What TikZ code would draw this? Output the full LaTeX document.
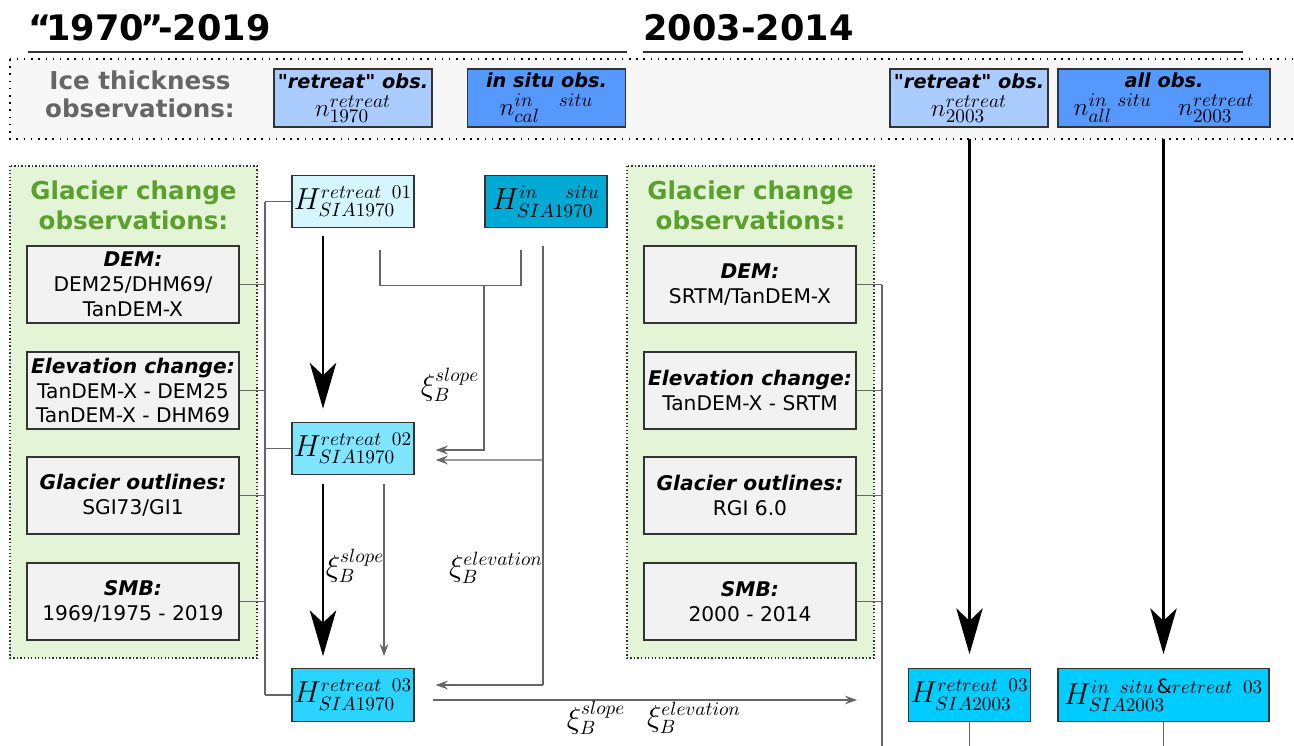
\documentclass[tikz,border=0pt]{standalone}
\usepackage{fontspec}
\setmainfont{DejaVu Sans}[Ligatures=TeXOff]
\usetikzlibrary{arrows.meta, calc}

\definecolor{boxline}{HTML}{333333}
\definecolor{linkgray}{HTML}{666666}
\definecolor{boxgray}{HTML}{F2F2F2}
\definecolor{panelgreen}{HTML}{E3F4D7}
\definecolor{titlegreen}{HTML}{5AA02C}
\definecolor{obsretreat}{HTML}{AACCFF}
\definecolor{obsinsitu}{HTML}{5599FF}
\definecolor{hfirst}{HTML}{D5F6FF}
\definecolor{hsecond}{HTML}{80E5FF}
\definecolor{hthird}{HTML}{2AD4FF}
\definecolor{hinsitu}{HTML}{00AAD4}
\definecolor{hlate}{HTML}{00CCFF}

\newcommand{\obshead}[1]{{\fontsize{11}{13}\selectfont\bfseries #1}}
\newcommand{\obsmath}[1]{{\fontsize{15}{15}\selectfont $#1$}}

\begin{document}
\begin{tikzpicture}[x=0.02cm, y=-0.02cm,
    databox/.style={draw=boxline, line width=0.9pt, fill=boxgray, minimum width=4.24cm,
        minimum height=1.54cm, align=center, inner sep=1pt, font=\fontsize{11.5}{14.2}\selectfont},
    obsbox/.style={draw=boxline, line width=0.7pt, minimum width=3.16cm, minimum height=1.16cm,
        align=center, inner sep=1pt, font=\fontsize{11}{13}\selectfont},
    hbox/.style={draw=boxline, line width=0.7pt, minimum width=2.44cm, minimum height=1.05cm,
        inner sep=1pt, font=\fontsize{16}{18}\selectfont},
    panel/.style={draw=black!80, fill=panelgreen, line width=0.8pt, dash pattern=on 0.8pt off 1.2pt},
    link/.style={draw=linkgray, line width=0.8pt},
    thin arrow/.style={link, -{Stealth[length=7pt, width=5pt, inset=2.5pt]}},
    big arrow/.style={line width=1.7pt, -{Stealth[length=26pt, width=15pt, inset=7pt]}},
    xilabel/.style={font=\fontsize{16}{18}\selectfont, inner sep=0pt}]

    \useasboundingbox (0,0) rectangle (1294,746);

    % periods
    \node[anchor=base west, inner sep=0pt, font=\fontsize{20}{24}\selectfont\bfseries] (periodA) at (28,41)
        {“\kern-3pt1970\kern-2pt”\kern-3pt-2019};
    \draw[boxline, line width=1pt] (28,52) -- (627,52);
    \node[anchor=base west, inner sep=0pt, font=\fontsize{20}{24}\selectfont\bfseries] (periodB) at (643,41) {2003-2014};
    \draw[boxline, line width=1pt] (643,52) -- (1243,52);

    % ice thickness band
    \draw[fill=black!3, line width=0.9pt, dash pattern=on 0.9pt off 3.2pt] (10,59) rectangle (1310,139);
    \node[align=center, text=linkgray, font=\fontsize{14}{16}\selectfont\bfseries] (icelabel) at (140,94)
        {Ice thickness\\observations:};
    \node[obsbox, fill=obsretreat] (obsA) at (353,98)
        {\obshead{"\textit{retreat}" \textit{obs.}}\\[3pt]\obsmath{n^{retreat}_{1970}}};
    \node[obsbox, fill=obsinsitu] (obsB) at (546.5,98)
        {\obshead{\itshape in situ obs.}\\[3pt]\obsmath{n^{in\quad situ}_{cal}}};
    \node[obsbox, fill=obsretreat] (obsC) at (969,98)
        {\obshead{"\textit{retreat}" \textit{obs.}}\\[3pt]\obsmath{n^{retreat}_{2003}}};
    \node[obsbox, fill=obsinsitu, minimum width=4.24cm] (obsD) at (1164,98)
        {\obshead{\itshape all obs.}\\[3pt]\obsmath{n^{in\;\;situ}_{all}\quad n^{retreat}_{2003}}};

    % glacier change panels
    \draw[panel] (10,166) rectangle (257,658);
    \draw[panel] (627,166) rectangle (874,658);
    \node[align=center, text=titlegreen, font=\fontsize{14}{17}\selectfont\bfseries] (panelA) at (133.5,205)
        {Glacier change\\observations:};
    \node[align=center, text=titlegreen, font=\fontsize{14}{17}\selectfont\bfseries] (panelB) at (750.5,205)
        {Glacier change\\observations:};

    % left data boxes
    \node[databox] (demA) at (133,284.5) {\textbf{\textit{DEM:}}\\DEM25/DHM69/\\TanDEM-X};
    \node[databox] (elevA) at (133,390.5) {\textbf{\textit{Elevation change:}}\\TanDEM-X - DEM25\\TanDEM-X - DHM69};
    \node[databox] (outlA) at (133,495.5) {\textbf{\textit{Glacier outlines:}}\\SGI73/GI1};
    \node[databox] (smbA) at (133,601.5) {\textbf{\textit{SMB:}}\\1969/1975 - 2019};

    % right data boxes
    \node[databox] (demB) at (750,284.5) {\textbf{\textit{DEM:}}\\SRTM/TanDEM-X};
    \node[databox] (elevB) at (750,390.5) {\textbf{\textit{Elevation change:}}\\TanDEM-X - SRTM};
    \node[databox] (outlB) at (750,495.5) {\textbf{\textit{Glacier outlines:}}\\RGI 6.0};
    \node[databox] (smbB) at (750,601.5) {\textbf{\textit{SMB:}}\\2000 - 2014};

    % thickness products
    \node[hbox, fill=hfirst] (hA1) at (353,201.5) {$H^{retreat\;\;01}_{SIA1970}$};
    \node[hbox, fill=hinsitu] (hIn) at (546,201.5) {$H^{in\quad situ}_{SIA1970}$};
    \node[hbox, fill=hsecond] (hA2) at (353,448.5) {$H^{retreat\;\;02}_{SIA1970}$};
    \node[hbox, fill=hthird] (hA3) at (353,695) {$H^{retreat\;\;03}_{SIA1970}$};
    \node[hbox, fill=hlate] (hB1) at (969.5,695) {$H^{retreat\;\;03}_{SIA2003}$};
    \node[hbox, fill=hlate, minimum width=4.22cm] (hB2) at (1163.5,695) {$H^{in\;\;situ\,\&retreat\;\;03}_{SIA2003}$};

    % left bus
    \coordinate (busA) at (265,202);
    \draw[link] (busA) -- (hA3.west -| busA);
    \foreach \b in {demA, elevA, outlA, smbA}
        \draw[link] (\b.east) -- (\b.east -| busA);
    \foreach \h in {hA1, hA2, hA3}
        \draw[link] (\h.west -| busA) -- (\h.west);

    % right bus
    \coordinate (busB) at (882,285);
    \draw[link] (busB) -- (882,760);
    \foreach \b in {demB, elevB, outlB, smbB}
        \draw[link] (\b.east) -- (\b.east -| busB);

    % retreat chain
    \draw[big arrow] ($(hA1.south)+(-30,8)$) -- ($(hA2.north)+(-30,-13)$);
    \draw[big arrow] ($(hA2.south)+(-30,9)$) -- ($(hA3.north)+(-30,-12)$);
    \draw[thin arrow] ($(hA2.south)+(31,9)$) -- ($(hA3.north)+(31,-12)$);

    % slope from both products
    \coordinate (slopeL) at ($(hA1.south)+(27,22)$);
    \coordinate (slopeR) at ($(hIn.south)+(-25,22)$);
    \draw[link] (slopeL) -- ++(0,35) -| (slopeR);
    \draw[thin arrow] (484,285) |- ($(hA2.east)+(21,1.5)$);

    % elevation from in situ
    \coordinate (elevTop) at ($(hIn.south)+(-3,18)$);
    \draw[link] (elevTop) -- (543,685);
    \draw[thin arrow] (543,460) -- ($(hA2.east)+(21,11.5)$);
    \draw[thin arrow] (543,685) -- ($(hA3.east)+(21,-10)$);

    % transfer to later period
    \coordinate (transferEnd) at (857,700);
    \draw[thin arrow] ($(hA3.east)+(18,5)$) -- (transferEnd);

    % later period chain
    \draw[big arrow] (hB1.north |- 0,139) -- ($(hB1.north)+(0,-14)$);
    \draw[big arrow] (hB2.north |- 0,139) -- ($(hB2.north)+(0,-14)$);
    \draw[link] (hB1.south) -- ++(0,40);
    \draw[link] (hB2.south) -- ++(0,40);

    % calibration factors
    \node[xilabel] (xiA) at (450,385) {$\xi_B^{slope}$};
    \node[xilabel] (xiB) at (355,566) {$\xi_B^{slope}$};
    \node[xilabel] (xiC) at (496,568) {$\xi_B^{elevation}$};
    \node[xilabel] (xiD) at (596,718) {$\xi_B^{slope}$};
    \node[xilabel] (xiE) at (694,718) {$\xi_B^{elevation}$};
\end{tikzpicture}
\end{document}
